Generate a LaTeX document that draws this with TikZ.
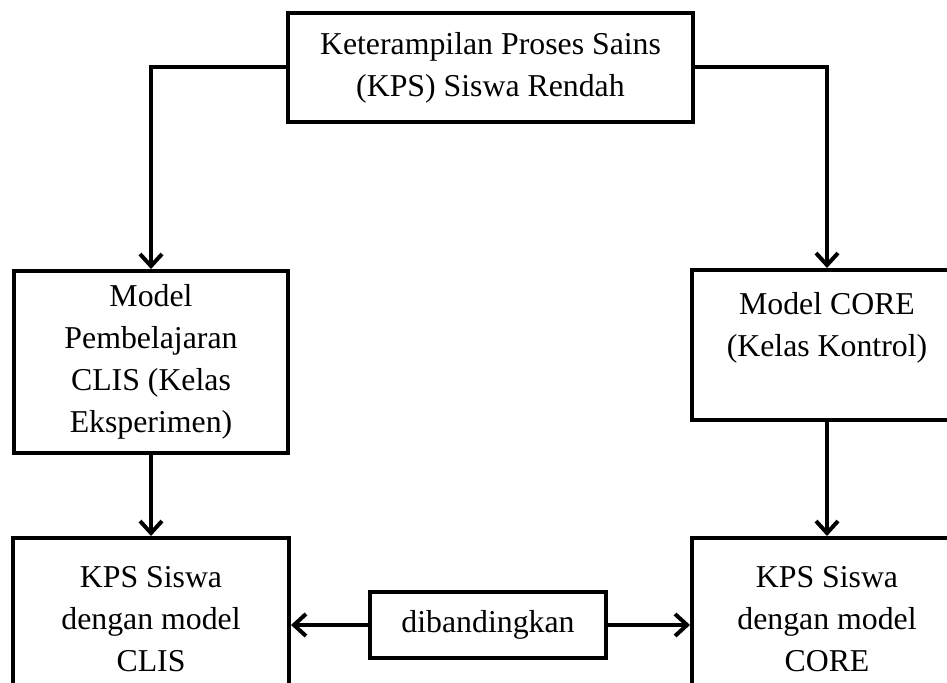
\documentclass[tikz,border=0pt]{standalone}
\usepackage{fontspec}
\setmainfont{Liberation Serif}
\usetikzlibrary{arrows.meta,positioning}

\begin{document}
\begin{tikzpicture}[x=0.5pt,y=-0.5pt,>={Straight Barb[length=6pt,width=11pt]},
 box/.style={draw,line width=2pt,align=center,inner sep=0pt,font=\fontsize{15.9}{21}\selectfont},
 arr/.style={->,line width=2pt}]
\useasboundingbox (0,0) rectangle (947,683);
\clip (0,0) rectangle (947,683);
% boxes
\node[box,minimum width=202.5pt,minimum height=54.5pt] (kps) at (490.5,67.5)
 {Keterampilan Proses Sains\\(KPS) Siswa Rendah};
\node[box,minimum width=137pt,minimum height=91pt] (clis) at (151,362)
 {Model\\Pembelajaran\\CLIS (Kelas\\Eksperimen)};
\node[box,minimum width=135pt,minimum height=75pt] (core) at (827,345)
 {Model CORE\\(Kelas Kontrol)\\~};
\node[box,minimum width=138pt,minimum height=81pt] (clisout) at (151,619)
 {KPS Siswa\\dengan model\\CLIS};
\node[box,minimum width=135pt,minimum height=81pt] (coreout) at (827,619)
 {KPS Siswa\\dengan model\\CORE};
\node[box,minimum width=118pt,minimum height=33pt] (dib) at (488,625) {dibandingkan};
% arrows
\draw[arr] (kps.west) -| (clis.north);
\draw[arr] (kps.east) -| (core.north);
\draw[arr] (clis.south) -- (clisout.north);
\draw[arr] (core.south) -- (coreout.north);
\draw[arr] (dib.west) -- (dib.west -| clisout.east);
\draw[arr] (dib.east) -- (dib.east -| coreout.west);
\end{tikzpicture}
\end{document}
